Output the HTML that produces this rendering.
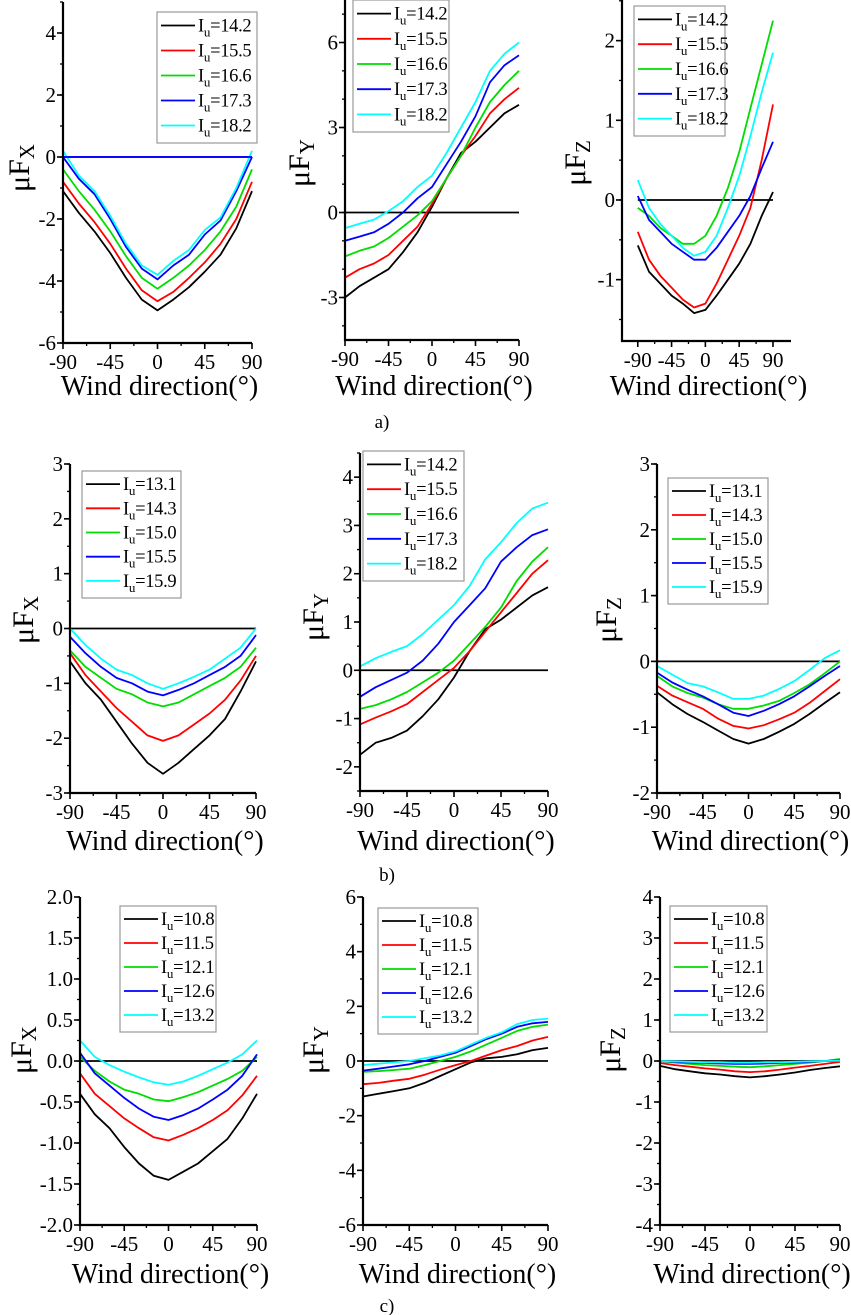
<!DOCTYPE html>
<html><head><meta charset="utf-8"><style>
html,body{margin:0;padding:0;background:#fff}
svg{display:block;font-family:"Liberation Serif",serif}
</style></head><body>
<svg id="fig" width="851" height="1315" viewBox="0 0 851 1315" xmlns="http://www.w3.org/2000/svg"></svg>
<script>
const xCats = [-90,-75,-60,-45,-30,-15,0,15,30,45,60,75,90];
const xTicks = [-90,-45,0,45,90];
const colors = ["#000000","#ff0000","#00dd00","#0000ff","#00ffff"];
const labelsA = ["14.2","15.5","16.6","17.3","18.2"];
const labelsB1 = ["13.1","14.3","15.0","15.5","15.9"];
const labelsC = ["10.8","11.5","12.1","12.6","13.2"];

const a1_s0=[-1.1,-1.8,-2.4,-3.1,-3.9,-4.6,-4.95,-4.6,-4.2,-3.7,-3.15,-2.3,-1.1];
const a1_s1=[-0.8,-1.5,-2.1,-2.8,-3.6,-4.3,-4.65,-4.35,-3.9,-3.4,-2.8,-2.0,-0.8];
const a1_s2=[-0.4,-1.1,-1.7,-2.4,-3.2,-3.9,-4.25,-3.9,-3.5,-3.0,-2.4,-1.6,-0.4];
const a1_s3=[0,-0.7,-1.2,-2.0,-2.9,-3.6,-3.95,-3.5,-3.15,-2.5,-2.05,-1.1,0];
const a1_s4=[0.2,-0.6,-1.1,-1.9,-2.8,-3.5,-3.8,-3.35,-3.0,-2.35,-1.95,-1.0,0.2];
const a1_yt=[-6,-4,-2,0,2,4];

const a2_s0=[-3.0,-2.6,-2.3,-2.0,-1.4,-0.7,0.2,1.2,2.1,2.5,3.0,3.5,3.8];
const a2_s1=[-2.3,-2.0,-1.8,-1.5,-1.0,-0.5,0.3,1.2,2.0,2.7,3.5,4.0,4.4];
const a2_s2=[-1.55,-1.35,-1.2,-0.9,-0.5,-0.1,0.4,1.2,2.0,3.0,3.9,4.5,5.0];
const a2_s3=[-1.0,-0.85,-0.7,-0.4,0.0,0.5,0.9,1.7,2.5,3.4,4.6,5.2,5.55];
const a2_s4=[-0.55,-0.4,-0.25,0.05,0.4,0.9,1.3,2.1,3.0,3.9,5.0,5.6,6.0];
const a2_yt=[-3,0,3,6];

const a3_s0=[-0.57,-0.9,-1.05,-1.2,-1.3,-1.42,-1.38,-1.2,-1.0,-0.8,-0.55,-0.2,0.1];
const a3_s1=[-0.4,-0.75,-0.95,-1.1,-1.25,-1.35,-1.3,-1.05,-0.75,-0.45,-0.1,0.5,1.2];
const a3_s2=[-0.1,-0.2,-0.35,-0.45,-0.55,-0.55,-0.45,-0.2,0.15,0.6,1.15,1.7,2.25];
const a3_s3=[0.05,-0.25,-0.4,-0.55,-0.65,-0.75,-0.75,-0.6,-0.4,-0.2,0.05,0.4,0.73];
const a3_s4=[0.25,-0.1,-0.3,-0.45,-0.6,-0.7,-0.65,-0.45,-0.1,0.3,0.8,1.35,1.85];
const a3_yt=[-1,0,1,2];

const b1_s0=[-0.6,-1.0,-1.3,-1.7,-2.1,-2.45,-2.65,-2.45,-2.2,-1.95,-1.65,-1.15,-0.6];
const b1_s1=[-0.45,-0.85,-1.15,-1.45,-1.7,-1.95,-2.05,-1.95,-1.75,-1.55,-1.3,-0.95,-0.5];
const b1_s2=[-0.4,-0.7,-0.9,-1.1,-1.2,-1.35,-1.42,-1.35,-1.2,-1.05,-0.9,-0.7,-0.35];
const b1_s3=[-0.15,-0.45,-0.7,-0.9,-1.0,-1.15,-1.22,-1.12,-1.0,-0.85,-0.7,-0.5,-0.12];
const b1_s4=[0,-0.3,-0.55,-0.75,-0.85,-1.0,-1.1,-1.0,-0.88,-0.75,-0.55,-0.35,0];
const b1_yt=[-3,-2,-1,0,1,2,3];

const b2_s0=[-1.75,-1.5,-1.4,-1.25,-0.95,-0.6,-0.15,0.4,0.85,1.05,1.3,1.55,1.72];
const b2_s1=[-1.12,-0.98,-0.85,-0.7,-0.45,-0.2,0.05,0.4,0.8,1.2,1.6,2.0,2.28];
const b2_s2=[-0.8,-0.72,-0.6,-0.45,-0.25,-0.05,0.2,0.55,0.9,1.3,1.85,2.25,2.55];
const b2_s3=[-0.55,-0.35,-0.2,-0.05,0.2,0.55,1.0,1.35,1.7,2.25,2.55,2.8,2.92];
const b2_s4=[0.08,0.25,0.38,0.5,0.75,1.05,1.35,1.75,2.3,2.65,3.05,3.35,3.47];
const b2_yt=[-2,-1,0,1,2,3,4];

const b3_s0=[-0.47,-0.65,-0.8,-0.92,-1.05,-1.18,-1.25,-1.18,-1.07,-0.95,-0.8,-0.63,-0.47];
const b3_s1=[-0.37,-0.52,-0.62,-0.72,-0.87,-0.98,-1.02,-0.97,-0.88,-0.78,-0.63,-0.45,-0.27];
const b3_s2=[-0.22,-0.38,-0.48,-0.55,-0.65,-0.72,-0.72,-0.67,-0.6,-0.48,-0.35,-0.18,0];
const b3_s3=[-0.17,-0.32,-0.43,-0.53,-0.65,-0.78,-0.83,-0.75,-0.65,-0.53,-0.38,-0.22,-0.07];
const b3_s4=[-0.07,-0.2,-0.33,-0.38,-0.47,-0.57,-0.57,-0.52,-0.42,-0.3,-0.13,0.05,0.17];
const b3_yt=[-2,-1,0,1,2,3];

const c1_s0=[-0.4,-0.65,-0.82,-1.05,-1.25,-1.4,-1.45,-1.35,-1.25,-1.1,-0.95,-0.7,-0.4];
const c1_s1=[-0.15,-0.4,-0.55,-0.7,-0.82,-0.93,-0.97,-0.9,-0.82,-0.72,-0.6,-0.42,-0.18];
const c1_s2=[0.05,-0.12,-0.25,-0.35,-0.4,-0.47,-0.49,-0.44,-0.38,-0.3,-0.22,-0.12,0.05];
const c1_s3=[0.1,-0.15,-0.3,-0.45,-0.58,-0.68,-0.72,-0.66,-0.58,-0.47,-0.35,-0.18,0.08];
const c1_s4=[0.25,0.05,-0.05,-0.13,-0.2,-0.26,-0.29,-0.25,-0.18,-0.1,-0.02,0.08,0.25];
const c1_yt=["-2.0","-1.5","-1.0","-0.5","0.0","0.5","1.0","1.5","2.0"];

const c2_s0=[-1.3,-1.2,-1.1,-1.0,-0.8,-0.55,-0.3,-0.05,0.1,0.15,0.25,0.4,0.48];
const c2_s1=[-0.85,-0.8,-0.72,-0.65,-0.5,-0.32,-0.15,0.0,0.2,0.4,0.55,0.75,0.88];
const c2_s2=[-0.4,-0.37,-0.33,-0.28,-0.15,0.0,0.15,0.35,0.6,0.85,1.1,1.25,1.33];
const c2_s3=[-0.35,-0.28,-0.2,-0.12,0.0,0.15,0.3,0.55,0.8,1.0,1.25,1.38,1.43];
const c2_s4=[-0.15,-0.1,-0.05,0.0,0.1,0.2,0.35,0.6,0.85,1.05,1.35,1.5,1.55];
const c2_yt=[-6,-4,-2,0,2,4,6];

const c3_s0=[-0.12,-0.2,-0.25,-0.3,-0.33,-0.37,-0.4,-0.37,-0.33,-0.28,-0.22,-0.17,-0.13];
const c3_s1=[-0.05,-0.1,-0.14,-0.18,-0.21,-0.25,-0.27,-0.25,-0.21,-0.16,-0.12,-0.07,-0.02];
const c3_s2=[0,-0.04,-0.07,-0.1,-0.12,-0.14,-0.15,-0.13,-0.1,-0.07,-0.04,0.0,0.05];
const c3_s3=[0,-0.02,-0.04,-0.05,-0.06,-0.07,-0.07,-0.06,-0.05,-0.04,-0.02,0.0,0.02];
const c3_s4=[0,-0.01,-0.02,-0.03,-0.03,-0.04,-0.04,-0.03,-0.03,-0.02,-0.01,0,0.01];
const c3_yt=[-4,-3,-2,-1,0,1,2,3,4];

const NS="http://www.w3.org/2000/svg";
const svg=document.getElementById('fig');
function mk(tag,attrs,parent){const e=document.createElementNS(NS,tag);for(const k in attrs)e.setAttribute(k,attrs[k]);(parent||svg).appendChild(e);return e;}

function panel(id,cfg,series,labels,yticks){
  const g=mk('g',{});
  
  
  const L=cfg.L,R=cfg.R,T=cfg.T,B=cfg.B;
  const xs=v=>L+(v-cfg.xmin)/(cfg.xmax-cfg.xmin)*(R-L);
  const ys=v=>B-(v-cfg.ymin)/(cfg.ymax-cfg.ymin)*(B-T);
  const zl=mk('line',{x1:xs(-90),x2:xs(90),y1:ys(0),y2:ys(0),stroke:cfg.zeroColor||'#000','stroke-width':1.8},g);
  
  
  series.forEach((s,i)=>{
    const d=s.map((v,j)=>(j?'L':'M')+xs(xCats[j]).toFixed(1)+','+ys(v).toFixed(1)).join(' ');
    const p=mk('path',{d:d,fill:'none',stroke:colors[i],'stroke-width':1.8,'stroke-linejoin':'round'},g);
    
    
  });
  if(cfg.zeroOnTop){const z2=mk('line',{x1:xs(-90),x2:xs(90),y1:ys(0),y2:ys(0),stroke:cfg.zeroColor,'stroke-width':1.8},g);
    
    }
  const ya=mk('line',{x1:L,x2:L,y1:T,y2:B+1,stroke:'#000','stroke-width':2.2},g);
  
  
  const xa=mk('line',{x1:L-1,x2:R,y1:B,y2:B,stroke:'#000','stroke-width':2.2},g);
  
  
  yticks.forEach(t=>{
    const v=parseFloat(t),y=ys(v);
    mk('line',{x1:L-6,x2:L,y1:y,y2:y,stroke:'#000','stroke-width':1.6},g);
    const tx=mk('text',{x:L-7,y:y+7,'text-anchor':'end','font-size':21},g);
    tx.textContent=String(t);
    
    
  });
  const st=cfg.minor;
  for(let v=Math.ceil(cfg.ymin/st)*st;v<=cfg.ymax+1e-9;v+=st){
    mk('line',{x1:L-3,x2:L,y1:ys(v),y2:ys(v),stroke:'#000','stroke-width':1.3},g);
  }
  xTicks.forEach(t=>{
    const x=xs(t);
    mk('line',{x1:x,x2:x,y1:B,y2:B+6,stroke:'#000','stroke-width':1.6},g);
    const tx=mk('text',{x:x,y:B+26,'text-anchor':'middle','font-size':21},g);
    tx.textContent=String(t);
    
    
  });
  for(let v=-67.5;v<90;v+=45){mk('line',{x1:xs(v),x2:xs(v),y1:B,y2:B+3,stroke:'#000','stroke-width':1.3},g);}
  const xt=mk('text',{x:(L+R)/2+2,y:cfg.xtY,'text-anchor':'middle','font-size':28},g);
  xt.textContent='Wind direction(°)';
  
  
  const yt=mk('text',{transform:`translate(${cfg.ytX},${cfg.ytY}) rotate(-90)`,'text-anchor':'middle','font-size':30},g);
  yt.innerHTML='μF<tspan font-size="21" dy="5">'+cfg.comp+'</tspan>';
  
  
  const lg=mk('g',{},g);
  
  
  const [lx,ly,lw,lh]=cfg.leg;
  mk('rect',{x:lx,y:ly,width:lw,height:lh,fill:'#fff',stroke:'#999','stroke-width':1.2},lg);
  const step=(lh-6)/5;
  labels.forEach((lab,i)=>{
    const cy=ly+3+step*(i+0.5)-2;
    const en=mk('g',{},lg);
    
    
    mk('line',{x1:lx+4,x2:lx+38,y1:cy,y2:cy,stroke:colors[i],'stroke-width':1.8},en);
    const t=mk('text',{x:lx+41,y:cy+6,'font-size':18.5,'letter-spacing':-0.3},en);
    t.innerHTML='I<tspan font-size="13" dy="5">u</tspan><tspan dy="-5">='+lab+'</tspan>';
  });
}

panel('a1',{L:63,R:252,T:2,B:343,xmin:-90,xmax:90,ymin:-6,ymax:5,minor:1,xtY:395,ytX:29,ytY:168,comp:'X',leg:[157,12,100,131],zeroColor:'#0000ff',zeroOnTop:true},[a1_s0,a1_s1,a1_s2,a1_s3,a1_s4],labelsA,a1_yt);
panel('a2',{L:345,R:519,T:0,B:340,xmin:-90,xmax:90,ymin:-4.5,ymax:7.5,minor:1,xtY:395,ytX:309,ytY:163,comp:'Y',leg:[353,0,96,132]},[a2_s0,a2_s1,a2_s2,a2_s3,a2_s4],labelsA,a2_yt);
panel('a3',{L:622,R:791,T:0,B:341,xmin:-111,xmax:114,ymin:-1.77,ymax:2.51,minor:0.5,xtY:395,ytX:585,ytY:163,comp:'Z',leg:[634,6,91,130]},[a3_s0,a3_s1,a3_s2,a3_s3,a3_s4],labelsA,a3_yt);

panel('b1',{L:70,R:256,T:464,B:793,xmin:-90,xmax:90,ymin:-3,ymax:3,minor:0.5,xtY:850,ytX:33,ytY:620,comp:'X',leg:[82,471,99,127]},[b1_s0,b1_s1,b1_s2,b1_s3,b1_s4],labelsB1,b1_yt);
panel('b2',{L:360,R:548,T:453,B:791,xmin:-90,xmax:90,ymin:-2.5,ymax:4.5,minor:0.5,xtY:850,ytX:323,ytY:617,comp:'Y',leg:[363,451,101,130]},[b2_s0,b2_s1,b2_s2,b2_s3,b2_s4],labelsA,b2_yt);
panel('b3',{L:657,R:840,T:464,B:793,xmin:-90,xmax:90,ymin:-2,ymax:3,minor:0.5,xtY:850,ytX:616,ytY:620,comp:'Z',leg:[668,478,100,126]},[b3_s0,b3_s1,b3_s2,b3_s3,b3_s4],labelsB1,b3_yt);

panel('c1',{L:80,R:257,T:897,B:1225,xmin:-90,xmax:90,ymin:-2,ymax:2,minor:0.25,xtY:1283,ytX:31,ytY:1050,comp:'X',leg:[120,906,96,126]},[c1_s0,c1_s1,c1_s2,c1_s3,c1_s4],labelsC,c1_yt);
panel('c2',{L:363,R:548,T:897,B:1225,xmin:-90,xmax:90,ymin:-6,ymax:6,minor:1,xtY:1283,ytX:323,ytY:1050,comp:'Y',leg:[378,908,100,126]},[c2_s0,c2_s1,c2_s2,c2_s3,c2_s4],labelsC,c2_yt);
panel('c3',{L:660,R:840,T:897,B:1225,xmin:-90,xmax:90,ymin:-4,ymax:4,minor:0.5,xtY:1283,ytX:620,ytY:1050,comp:'Z',leg:[670,906,97,126]},[c3_s0,c3_s1,c3_s2,c3_s3,c3_s4],labelsC,c3_yt);

[['a)',382,428],['b)',387,881],['c)',387,1312]].forEach(([t,x,y])=>{
  const e=mk('text',{x:x,y:y,'text-anchor':'middle','font-size':19});
  e.textContent=t;
  
  
});
</script>
</body></html>
